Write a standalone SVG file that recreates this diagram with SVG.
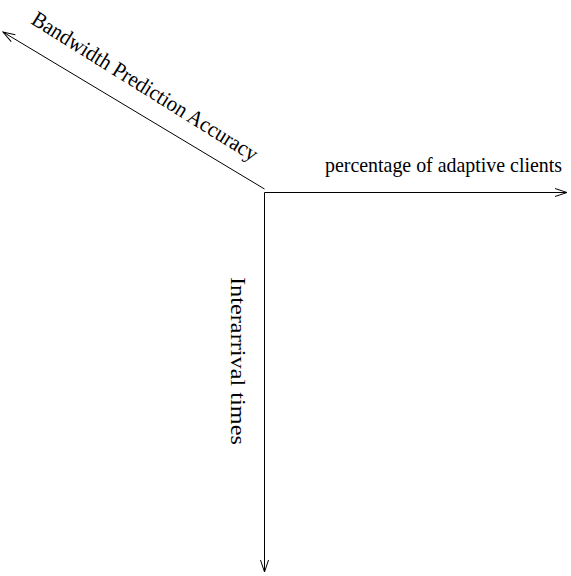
<svg xmlns="http://www.w3.org/2000/svg" width="571" height="576" viewBox="0 0 571 576">
<style>
.ln{stroke:#000;stroke-width:1;fill:none}
.t{font-family:"Liberation Serif",serif;font-size:22px;fill:#000}
</style>
<defs>
<marker id="ah" markerWidth="14" markerHeight="10" refX="13" refY="5" orient="auto" markerUnits="userSpaceOnUse">
<path d="M1,1 L13,5 L1,9" fill="none" stroke="#000" stroke-width="1"/>
</marker>
</defs>
<rect width="571" height="576" fill="#fff"/>
<g id="connectors">
<line class="ln" x1="264.5" y1="192.5" x2="567" y2="192.5" marker-end="url(#ah)"/>
<line class="ln" x1="264.5" y1="192.5" x2="264.5" y2="572" marker-end="url(#ah)"/>
<line class="ln" x1="264.5" y1="189" x2="3" y2="32" marker-end="url(#ah)"/>
</g>
<g id="label-bandwidth">
<text class="t" transform="translate(30,23) rotate(32)" textLength="262" lengthAdjust="spacingAndGlyphs">Bandwidth Prediction Accuracy</text>
</g>
<g id="label-percentage">
<text class="t" transform="translate(325,172) scale(0.905,1)">percentage of adaptive clients</text>
</g>
<g id="label-interarrival">
<text class="t" transform="translate(231,277) rotate(90)" textLength="168" lengthAdjust="spacingAndGlyphs">Interarrival times</text>
</g>
</svg>
